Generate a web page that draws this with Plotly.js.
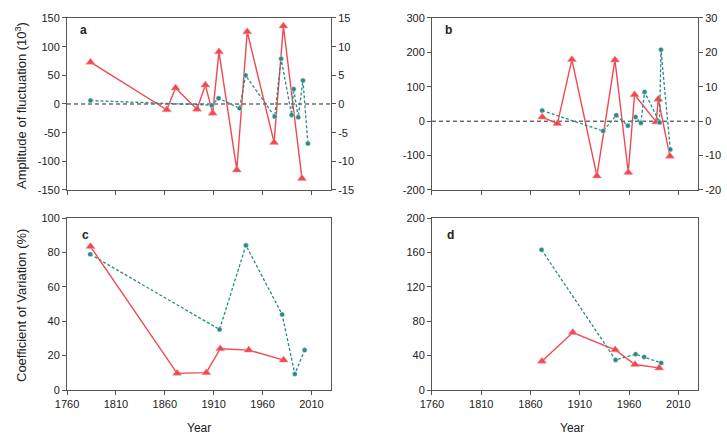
<!DOCTYPE html>
<html><head><meta charset="utf-8">
<script src="https://cdn.plot.ly/plotly-3.0.1.min.js"></script>
<style>html,body{margin:0;padding:0;background:#fff}#g{width:727px;height:439px}</style>
</head><body><div id="g"></div>
<script>
// Panel a
var aRedYear = [1784, 1862, 1871, 1893, 1901.5, 1909, 1915.4, 1933.7, 1944.3, 1971.8, 1981.3, 2000.3];
var aRedVal  = [73, -10, 28, -9, 33, -16, 91, -115, 126, -67, 136, -130];
var aTealYear = [1784, 1908, 1915, 1936.5, 1942.6, 1972.4, 1979, 1989.7, 1991.8, 1996.5, 2001.3, 2006.4];
var aTealVal  = [0.6, -0.2, 1.0, -0.75, 5.0, -2.2, 7.9, -1.9, 2.6, -2.3, 4.1, -6.9];
// Panel b
var bRedYear = [1872, 1887.3, 1902, 1927.4, 1945.7, 1959.2, 1965.6, 1987.6, 1989.7, 2001.5];
var bRedVal  = [12, -7, 179, -159, 178, -149, 77, -2, 64, -102];
var bTealYear = [1871.8, 1933.8, 1947, 1958.8, 1966.6, 1972, 1975.8, 1991, 1992.4, 2001.9];
var bTealVal  = [3.1, -2.85, 1.7, -1.3, 1.2, -0.5, 8.5, -0.35, 20.8, -8.2];
// Panel c
var cRedYear = [1784, 1872.6, 1902.5, 1916.7, 1945.9, 1981.5];
var cRedVal  = [83.4, 9.7, 10.1, 24.0, 23.2, 17.4];
var cTealYear = [1783.7, 1916, 1943, 1980, 1993, 2003];
var cTealVal  = [78.9, 35.2, 84.1, 43.9, 9.3, 23.2];
// Panel d
var dRedYear = [1871.6, 1902.9, 1946, 1966, 1990.6];
var dRedVal  = [33.5, 66.9, 46.7, 29.6, 25.7];
var dTealYear = [1871.2, 1946.4, 1966.7, 1975.3, 1992.7];
var dTealVal  = [163, 35, 41.6, 38.5, 31.5];
// Ticks
var xTicks = [1760, 1810, 1860, 1910, 1960, 2010];
var aLeftTicks = [-150, -100, -50, 0, 50, 100, 150];
var aRightTicks = [-15, -10, -5, 0, 5, 10, 15];
var bLeftTicks = [-200, -100, 0, 100, 200, 300];
var bRightTicks = [-20, -10, 0, 10, 20, 30];
var cTicks = [0, 20, 40, 60, 80, 100];
var dTicks = [0, 40, 80, 120, 160, 200];

function lbl(a){ return a.map(function(v){ return String(v); }); }

var RED = 'rgb(240,72,80)', TEAL = 'rgb(42,138,132)';
function red(x, y, xa, ya){ return {x:x, y:y, xaxis:xa, yaxis:ya, mode:'lines+markers', type:'scatter',
  line:{color:RED, width:1.4}, marker:{symbol:'triangle-up', size:8, color:RED, line:{color:'rgba(255,150,150,0.8)', width:0.6}}, cliponaxis:false, hoverinfo:'none'}; }
function teal(x, y, xa, ya){ return {x:x, y:y, xaxis:xa, yaxis:ya, mode:'lines+markers', type:'scatter',
  line:{color:TEAL, width:1.3, dash:'3px,2px'}, marker:{symbol:'circle', size:5, color:TEAL, line:{color:'rgba(255,255,255,0.7)', width:0.6}}, cliponaxis:false, hoverinfo:'none'}; }

var data = [
  red(aRedYear, aRedVal, 'x', 'y'), teal(aTealYear, aTealVal, 'x', 'y2'),
  red(bRedYear, bRedVal, 'x2', 'y3'), teal(bTealYear, bTealVal, 'x2', 'y4'),
  teal(cTealYear, cTealVal, 'x3', 'y5'), red(cRedYear, cRedVal, 'x3', 'y5'),
  teal(dTealYear, dTealVal, 'x4', 'y6'), red(dRedYear, dRedVal, 'x4', 'y6')
];

var F = {family:'Liberation Sans, Arial, sans-serif', size:11, color:'#222'};
var LC = '#555';
function xax(dom, anchor, showlabels){ return {domain:dom, anchor:anchor, range:[1760,2030], tickvals:xTicks, ticktext:xTicks.map(String),
  showticklabels:showlabels, ticks:'outside', ticklen:4, tickcolor:LC, showline:true, linecolor:LC, linewidth:1, mirror:true,
  showgrid:false, zeroline:false, tickfont:F, automargin:false}; }
function yax(dom, anchor, rng, tv, side, overlay){ var o = {domain:dom, anchor:anchor, range:rng, tickvals:tv, ticktext:lbl(tv),
  ticks:'outside', ticklen:4, tickcolor:LC, showline:true, linecolor:LC, linewidth:1, side:side||'left',
  showgrid:false, zeroline:false, tickfont:F, automargin:false};
  if(overlay){ o.overlaying = overlay; } else { o.mirror = true; } return o; }

var topD = [0.5672, 0.959], botD = [0.1116, 0.5034];
var leftD = [0.0922, 0.4553], rightD = [0.5942, 0.9601];
var AF = {family:F.family, size:13, color:'#222'};
var PF = {family:F.family, size:12, color:'#222'};

var layout = {
  width:727, height:439, margin:{l:0, r:0, t:0, b:0}, paper_bgcolor:'#fff', plot_bgcolor:'#fff', showlegend:false,
  font:F,
  xaxis: xax(leftD, 'y', false),
  yaxis: yax(topD, 'x', [-150,150], aLeftTicks),
  yaxis2: yax(topD, 'x', [-15,15], aRightTicks, 'right', 'y'),
  xaxis2: xax(rightD, 'y3', false),
  yaxis3: yax(topD, 'x2', [-200,300], bLeftTicks),
  yaxis4: yax(topD, 'x2', [-20,30], bRightTicks, 'right', 'y3'),
  xaxis3: xax(leftD, 'y5', true),
  yaxis5: yax(botD, 'x3', [0,100], cTicks),
  xaxis4: xax(rightD, 'y6', true),
  yaxis6: yax(botD, 'x4', [0,200], dTicks),
  shapes: [
    {type:'line', xref:'x domain', yref:'y', x0:0, x1:1, y0:0, y1:0, line:{color:'#222', width:1, dash:'4px,3px'}, layer:'below'},
    {type:'line', xref:'x2 domain', yref:'y3', x0:0, x1:1, y0:0, y1:0, line:{color:'#222', width:1, dash:'4px,3px'}, layer:'below'}
  ],
  annotations: [
    {text:'<b>a</b>', xref:'x domain', yref:'y domain', x:0.04, y:0.93, showarrow:false, xanchor:'left', yanchor:'middle', font:PF},
    {text:'<b>b</b>', xref:'x2 domain', yref:'y3 domain', x:0.04, y:0.93, showarrow:false, xanchor:'left', yanchor:'middle', font:PF},
    {text:'<b>c</b>', xref:'x3 domain', yref:'y5 domain', x:0.05, y:0.9, showarrow:false, xanchor:'left', yanchor:'middle', font:PF},
    {text:'<b>d</b>', xref:'x4 domain', yref:'y6 domain', x:0.05, y:0.9, showarrow:false, xanchor:'left', yanchor:'middle', font:PF},
    {text:'Amplitude of fluctuation (10<sup>3</sup>)', xref:'paper', yref:'paper', x:21/727, y:1-106/439, xanchor:'center', yanchor:'middle', textangle:-90, showarrow:false, font:AF},
    {text:'Coefficient of Variation (%)', xref:'paper', yref:'paper', x:21/727, y:1-306/439, xanchor:'center', yanchor:'middle', textangle:-90, showarrow:false, font:AF},
    {text:'Year', xref:'paper', yref:'paper', x:199/727, y:1-428/439, xanchor:'center', yanchor:'middle', showarrow:false, font:{family:F.family, size:12, color:'#222'}},
    {text:'Year', xref:'paper', yref:'paper', x:572/727, y:1-428/439, xanchor:'center', yanchor:'middle', showarrow:false, font:{family:F.family, size:12, color:'#222'}}
  ]
};
Plotly.newPlot('g', data, layout, {staticPlot:true, displayModeBar:false});
</script></body></html>
